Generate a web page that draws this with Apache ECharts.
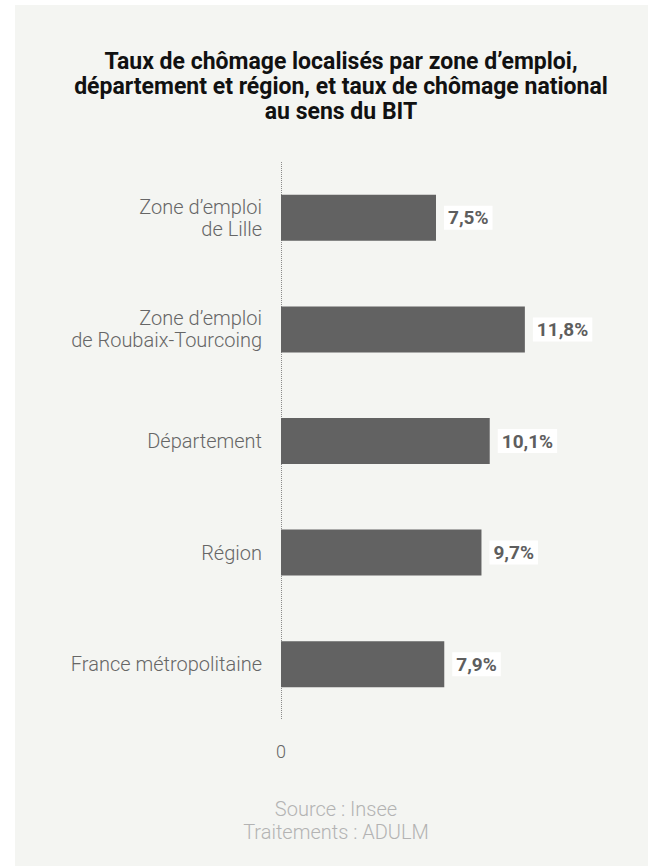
<!DOCTYPE html>
<html>
<head>
<meta charset="utf-8">
<script src="https://cdn.jsdelivr.net/npm/echarts@6/dist/echarts.min.js"></script>
<style>
  html, body { margin: 0; padding: 0; background: #ffffff; }
</style>
</head>
<body>
<div id="chart" style="width: 648px;height:866px;"></div>
<script type="text/javascript">
  // données
  var categories = [
    'Zone d\u2019emploi\nde Lille',
    'Zone d\u2019emploi\nde Roubaix-Tourcoing',
    'Département',
    'Région',
    'France métropolitaine'
  ];
  var values = [7.5, 11.8, 10.1, 9.7, 7.9];
  var xTicks = [0];

  var chart = echarts.init(document.getElementById('chart'), null, {
    renderer: 'svg'
  });

  chart.setOption({
    backgroundColor: '#ffffff',
    animation: false,
    textStyle: { fontFamily: 'Roboto' },
    graphic: [{
      type: 'rect',
      z: -10,
      shape: { x: 15, y: 5, width: 640, height: 870 },
      style: { fill: '#f4f5f2' }
    }, {
      type: 'text',
      x: 336,
      y: 797,
      style: {
        text: 'Source : Insee\nTraitements : ADULM',
        align: 'center',
        fill: '#b3b3b3',
        font: '300 20px Roboto',
        lineHeight: 23
      }
    }],
    title: {
      text: 'Taux de chômage localisés par zone d\u2019emploi,\ndépartement et région, et taux de chômage national\nau sens du BIT',
      left: 336,
      top: 44,
      textAlign: 'center',
      textStyle: {
        fontFamily: 'Roboto',
        fontWeight: 'bold',
        fontSize: 23,
        lineHeight: 25,
        color: '#111111'
      }
    },
    grid: {
      left: 281,
      top: 162,
      width: 310,
      height: 558
    },
    xAxis: {
      type: 'value',
      min: 0,
      max: 15,
      interval: 15,
      axisLine: { show: false },
      axisTick: { show: false },
      splitLine: {
        show: true,
        showMaxLine: false,
        lineStyle: { type: 'dotted', color: '#8a8a8a', width: 1 }
      },
      axisLabel: {
        margin: 22,
        color: '#666666',
        fontSize: 18,
        fontWeight: 300,
        formatter: function(v) {
          return xTicks.indexOf(v) >= 0 ? String(v) : '';
        }
      }
    },
    yAxis: {
      type: 'category',
      inverse: true,
      data: categories,
      axisLine: { show: false },
      axisTick: { show: false },
      axisLabel: {
        margin: 19,
        color: '#666666',
        fontSize: 20,
        fontWeight: 300,
        lineHeight: 22,
        align: 'right'
      }
    },
    series: [{
      type: 'bar',
      data: values,
      barWidth: 46,
      itemStyle: { color: '#626262' },
      label: {
        show: true,
        position: 'right',
        distance: 8,
        color: '#5e5e5e',
        fontWeight: 'bold',
        fontSize: 19,
        backgroundColor: '#ffffff',
        padding: [3, 4, 2, 4],
        formatter: function(p) {
          return p.value.toFixed(1).replace('.', ',') + '%';
        }
      }
    }]
  });
</script>
</body>
</html>
